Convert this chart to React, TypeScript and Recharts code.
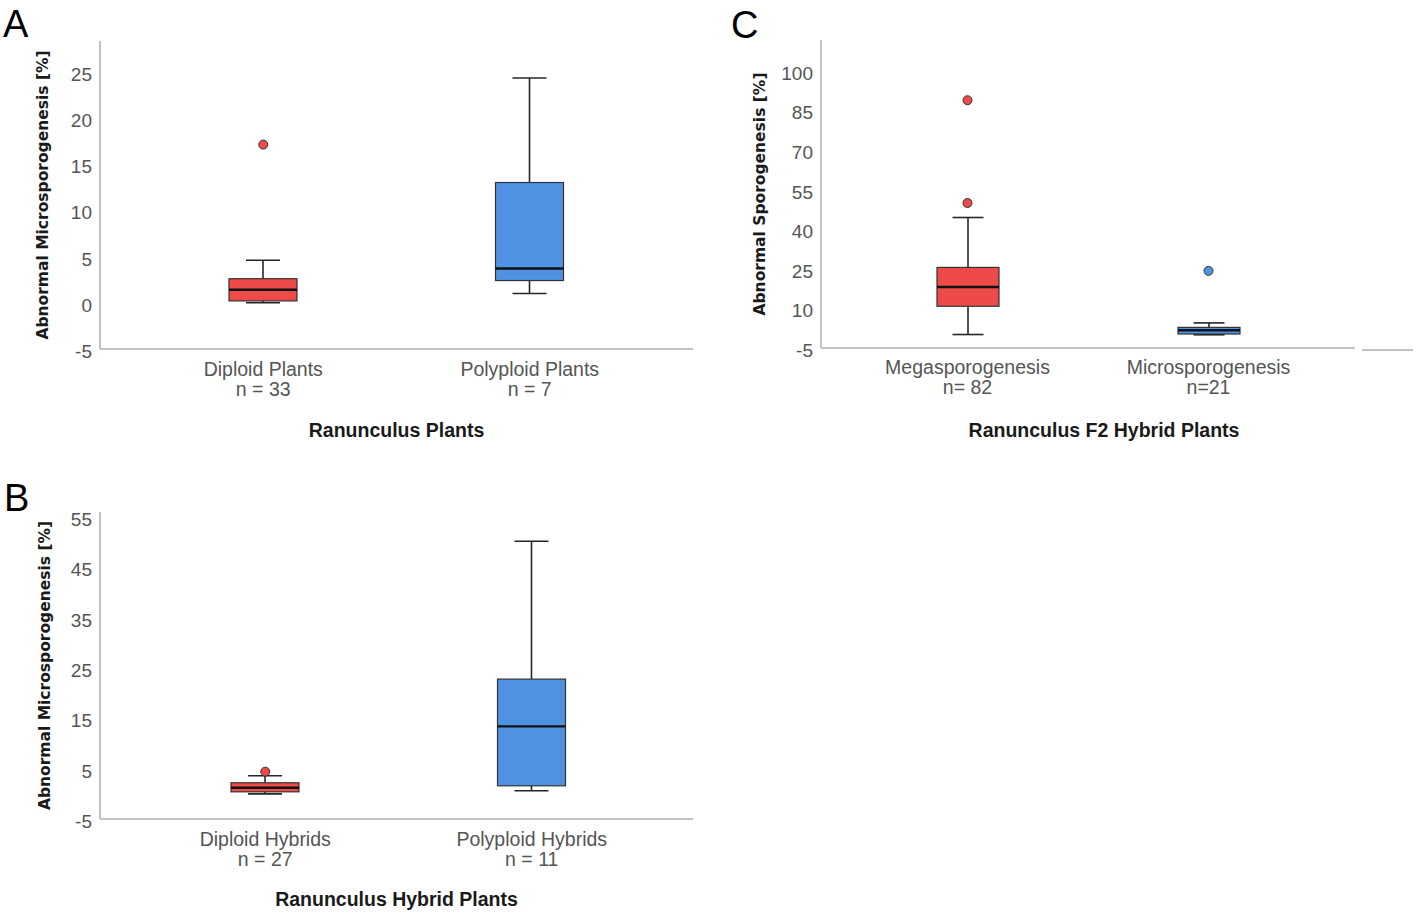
import React from 'react';
import { ComposedChart, Bar, Scatter, XAxis, YAxis } from 'recharts';

// Panel A: Ranunculus plants
const plantGroups = ['Diploid Plants', 'Polyploid Plants'];
const plantCounts = ['n = 33', 'n = 7'];
const plantMin = [0.0, 1.0];
const plantQ1 = [0.2, 2.4];
const plantMedian = [1.4, 3.7];
const plantQ3 = [2.6, 13.0];
const plantMax = [4.6, 24.3];
const plantOutlierGroups = ['Diploid Plants'];
const plantOutlierValues = [17.1];
const plantTicks = [-5, 0, 5, 10, 15, 20, 25];

// Panel B: Ranunculus hybrid plants
const hybridGroups = ['Diploid Hybrids', 'Polyploid Hybrids'];
const hybridCounts = ['n = 27', 'n = 11'];
const hybridMin = [0.0, 0.6];
const hybridQ1 = [0.4, 1.6];
const hybridMedian = [1.2, 13.4];
const hybridQ3 = [2.2, 22.8];
const hybridMax = [3.6, 50.2];
const hybridOutlierGroups = ['Diploid Hybrids'];
const hybridOutlierValues = [4.4];
const hybridTicks = [-5, 5, 15, 25, 35, 45, 55];

// Panel C: Ranunculus F2 hybrid plants
const f2Groups = ['Megasporogenesis', 'Microsporogenesis'];
const f2Counts = ['n= 82', 'n=21'];
const f2Min = [0.1, 0.0];
const f2Q1 = [10.8, 0.3];
const f2Median = [18.1, 1.7];
const f2Q3 = [25.5, 2.8];
const f2Max = [44.4, 4.5];
const f2OutlierGroups = ['Megasporogenesis', 'Megasporogenesis', 'Microsporogenesis'];
const f2OutlierValues = [88.8, 49.9, 24.2];
const f2Ticks = [-5, 10, 25, 40, 55, 70, 85, 100];

const BOX_COLORS = ['#EF4A4A', '#4F92E2'];
const AXIS_COLOR = '#c2c2c2';
const LABEL_FONT = "'Liberation Sans', Arial, sans-serif";
const TITLE_FONT = "'DejaVu Sans', Verdana, sans-serif";

const buildRows = (groups, mins, q1s, medians, q3s, maxs) =>
  groups.map((name, i) => ({ name, min: mins[i], q1: q1s[i], median: medians[i], q3: q3s[i], max: maxs[i] }));

const buildOutliers = (groups, values) => groups.map((name, i) => ({ name, value: values[i] }));

const BoxShape = (props) => {
  const { x, y, width, height, payload, index } = props;
  const span = payload.max - payload.min;
  const py = (v) => y + ((payload.max - v) / span) * height;
  const cx = x + width / 2;
  const cap = width / 4;
  const ink = '#262626';
  return (
    <g>
      <line x1={cx} x2={cx} y1={py(payload.max)} y2={py(payload.q3)} stroke={ink} strokeWidth={1.6} />
      <line x1={cx} x2={cx} y1={py(payload.q1)} y2={py(payload.min)} stroke={ink} strokeWidth={1.6} />
      <line x1={cx - cap} x2={cx + cap} y1={py(payload.max)} y2={py(payload.max)} stroke={ink} strokeWidth={1.6} />
      <line x1={cx - cap} x2={cx + cap} y1={py(payload.min)} y2={py(payload.min)} stroke={ink} strokeWidth={1.6} />
      <rect
        x={x}
        y={py(payload.q3)}
        width={width}
        height={py(payload.q1) - py(payload.q3)}
        fill={BOX_COLORS[index % BOX_COLORS.length]}
        stroke="#333"
        strokeWidth={1.2}
      />
      <line x1={x} x2={x + width} y1={py(payload.median)} y2={py(payload.median)} stroke="#111" strokeWidth={2.4} />
    </g>
  );
};

const GroupTick = ({ x, y, payload, groups, counts, firstDy }) => {
  const i = groups.indexOf(payload.value);
  return (
    <text x={x} y={y} textAnchor="middle" fill="#555" fontSize={19.5} fontFamily={LABEL_FONT}>
      <tspan x={x} dy={firstDy}>{payload.value}</tspan>
      <tspan x={x} dy={20}>{counts[i]}</tspan>
    </text>
  );
};

const ValueTick = ({ x, y, payload }) => (
  <text x={x} y={y + 9} textAnchor="end" fill="#555" fontSize={19} fontFamily={LABEL_FONT}>
    {payload.value}
  </text>
);

const BottomTitle = ({ viewBox, text, dy, dx = 0 }) => {
  const { x, y, width } = viewBox;
  return (
    <text x={x + width / 2 + dx} y={y + dy} textAnchor="middle" fill="#1a1a1a" fontSize={19.5} fontWeight="bold" fontFamily={LABEL_FONT}>
      {text}
    </text>
  );
};

const SideTitle = ({ viewBox, text, cx }) => {
  const { y, height } = viewBox;
  const cy = y + height / 2;
  return (
    <text
      x={cx}
      y={cy}
      transform={`rotate(-90 ${cx} ${cy})`}
      textAnchor="middle"
      dominantBaseline="central"
      fill="#1a1a1a"
      fontSize={15.5}
      fontWeight="bold"
      fontFamily={TITLE_FONT}
    >
      {text}
    </text>
  );
};

const OutlierDot = (props) => {
  const { cx, cy, payload, groups } = props;
  const i = groups.indexOf(payload.name);
  return <circle cx={cx} cy={cy} r={4.5} fill={BOX_COLORS[i]} stroke="#333" strokeWidth={1} />;
};

const BoxPanel = ({
  left, top, width, height, margin, yAxisWidth, groups, counts, rows, outliers,
  ticks, domain, yLabel, yLabelX, xLabel, titleDy, titleDx, tickDy, barSize, padding,
}) => (
  <div style={{ position: 'absolute', left, top }}>
    <ComposedChart width={width} height={height} data={rows} margin={margin}>
      <XAxis
        dataKey="name"
        type="category"
        allowDuplicatedCategory={false}
        padding={padding}
        height={90}
        interval={0}
        tickLine={false}
        tickSize={0}
        tickMargin={0}
        axisLine={{ stroke: AXIS_COLOR, strokeWidth: 2 }}
        tick={<GroupTick groups={groups} counts={counts} firstDy={tickDy} />}
        label={<BottomTitle text={xLabel} dy={titleDy} dx={titleDx} />}
      />
      <YAxis
        type="number"
        domain={domain}
        allowDataOverflow
        ticks={ticks}
        interval={0}
        width={yAxisWidth}
        tickLine={false}
        tickSize={6}
        tickMargin={2}
        axisLine={{ stroke: AXIS_COLOR, strokeWidth: 2 }}
        tick={<ValueTick />}
        label={<SideTitle text={yLabel} cx={yLabelX} />}
      />
      <Bar dataKey={(d) => [d.min, d.max]} barSize={barSize} shape={<BoxShape />} isAnimationActive={false} />
      <Scatter data={outliers} dataKey="value" shape={<OutlierDot groups={groups} />} isAnimationActive={false} />
    </ComposedChart>
  </div>
);

export default function App() {
  return (
    <div style={{ position: 'absolute', left: 0, top: 0, width: 1418, height: 916, background: '#fff', overflow: 'hidden' }}>
      <BoxPanel
        left={0}
        top={0}
        width={710}
        height={450}
        margin={{ top: 41, right: 17, bottom: 11, left: 0 }}
        yAxisWidth={100}
        groups={plantGroups}
        counts={plantCounts}
        rows={buildRows(plantGroups, plantMin, plantQ1, plantMedian, plantQ3, plantMax)}
        outliers={buildOutliers(plantOutlierGroups, plantOutlierValues)}
        ticks={plantTicks}
        domain={[-5, 28.3]}
        yLabel="Abnormal Microsporogenesis [%]"
        yLabelX={43}
        xLabel="Ranunculus Plants"
        titleDy={88}
        titleDx={0}
        tickDy={27}
        barSize={68}
        padding={{ left: 30, right: 30 }}
      />

      <BoxPanel
        left={0}
        top={470}
        width={710}
        height={446}
        margin={{ top: 42, right: 17, bottom: 7, left: 0 }}
        yAxisWidth={100}
        groups={hybridGroups}
        counts={hybridCounts}
        rows={buildRows(hybridGroups, hybridMin, hybridQ1, hybridMedian, hybridQ3, hybridMax)}
        outliers={buildOutliers(hybridOutlierGroups, hybridOutlierValues)}
        ticks={hybridTicks}
        domain={[-5, 56]}
        yLabel="Abnormal Microsporogenesis [%]"
        yLabelX={45}
        xLabel="Ranunculus Hybrid Plants"
        titleDy={87}
        titleDx={0}
        tickDy={27}
        barSize={68}
        padding={{ left: 32, right: 28 }}
      />

      <BoxPanel
        left={720}
        top={0}
        width={698}
        height={450}
        margin={{ top: 40, right: 63, bottom: 12, left: 0 }}
        yAxisWidth={101}
        groups={f2Groups}
        counts={f2Counts}
        rows={buildRows(f2Groups, f2Min, f2Q1, f2Median, f2Q3, f2Max)}
        outliers={buildOutliers(f2OutlierGroups, f2OutlierValues)}
        ticks={f2Ticks}
        domain={[-5, 111.6]}
        yLabel="Abnormal Sporogenesis [%]"
        yLabelX={40}
        xLabel="Ranunculus F2 Hybrid Plants"
        titleDy={89}
        titleDx={16}
        tickDy={26}
        barSize={62}
        padding={{ left: 26, right: 26 }}
      />

      <div style={{ position: 'absolute', left: 1362, top: 349, width: 51, height: 2, background: AXIS_COLOR }} />

      {/* panel letters */}
      <svg width={1418} height={916} style={{ position: 'absolute', left: 0, top: 0, pointerEvents: 'none' }}>
        <g fontFamily="'Liberation Sans', Arial, sans-serif" fontSize={38} fill="#000">
          <text x={3} y={37}>A</text>
          <text x={4} y={511}>B</text>
          <text x={731} y={38}>C</text>
        </g>
      </svg>
    </div>
  );
}
